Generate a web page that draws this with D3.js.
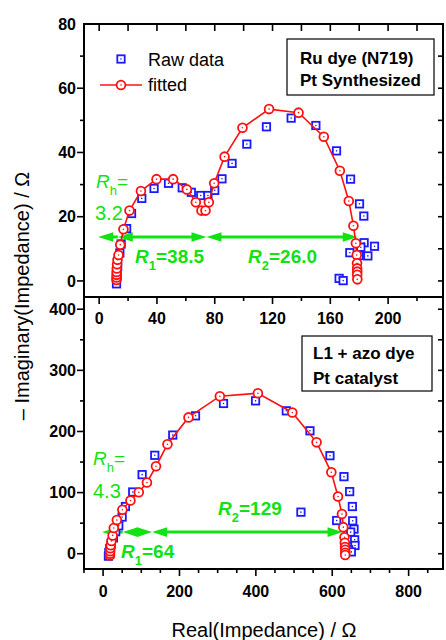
<!DOCTYPE html>
<html>
<head>
<meta charset="utf-8">
<script src="https://cdn.jsdelivr.net/npm/d3@7"></script>
<style>
    body { margin: 0; background: #fff; }
    #chart { width: 446px; height: 640px; }
    text { font-family: "Liberation Sans", Arial, sans-serif; }
</style>
</head>
<body>
<div id="chart"></div>
<script>
// top panel: Ru dye (N719), Pt synthesized
var rawTopX = [12.0, 12.4, 12.8, 14.3, 15.2, 19.0, 22.4, 29.5, 38.0, 48.0, 57.5, 63.8, 70.3, 75.3, 80.0, 85.0, 92.0, 102.2, 115.8, 132.9, 150.0, 164.3, 174.0, 180.2, 183.2, 183.4, 181.1, 190.6, 173.5, 180.0, 186.0, 166.1, 168.9];
var rawTopY = [-0.9, 1.8, 4.5, 8.7, 11.5, 16.3, 21.0, 25.7, 28.8, 30.4, 29.0, 27.6, 26.6, 26.6, 28.2, 31.8, 36.6, 42.6, 48.0, 50.7, 48.4, 40.5, 31.7, 24.0, 20.2, 11.9, 10.5, 10.8, 8.8, 7.9, 7.8, 0.8, 0.1];
var fitTopX = [12.0, 12.0, 12.1, 12.1, 12.2, 12.4, 12.7, 13.4, 14.6, 16.8, 21.0, 28.9, 39.7, 51.2, 60.7, 66.9, 70.8, 73.6, 75.9, 79.6, 86.8, 99.2, 117.6, 138.0, 155.5, 166.6, 172.8, 176.0, 177.7, 178.3, 178.5, 178.6, 178.6, 178.6, 178.7];
var fitTopY = [0.3, 1.1, 1.9, 2.8, 3.9, 5.2, 6.6, 8.1, 11.3, 16.1, 21.9, 28.0, 31.7, 31.7, 28.5, 24.5, 21.9, 21.9, 24.5, 30.4, 38.7, 47.7, 53.5, 52.4, 44.9, 34.3, 24.9, 17.2, 11.7, 8.1, 5.5, 3.9, 2.9, 1.9, 0.5];

// bottom panel: L1 + azo dye, Pt catalyst
var rawBotX = [14, 15, 17, 21, 27, 33, 41, 49.8, 58.5, 77.6, 102.2, 135.3, 182.4, 242, 315.3, 399.2, 479.7, 541.6, 594, 630.7, 645.6, 652.7, 653.5, 611.6, 518, 657, 648.3, 658.7, 659.5, 643, 650];
var rawBotY = [-4, 2, 8, 16, 26, 36, 45.7, 60, 77.2, 101, 129.4, 161, 194.1, 225.6, 245.8, 250.1, 233.8, 201.1, 160.4, 126.1, 101.6, 77.2, 53.8, 54.3, 68, 40.3, 35.4, 22.8, 13.5, 6.5, 3];
var fitBotX = [18, 18, 18.5, 19, 20, 22, 25, 28, 36, 50.5, 71.6, 93.4, 114.8, 138.5, 168.5, 223.6, 305.7, 405.3, 495.4, 559, 597.6, 615, 625.4, 629, 632, 633, 633.5, 634, 634, 634];
var fitBotY = [-3, 0, 4, 9, 14, 21, 30, 42, 55, 72, 87, 100.6, 116.6, 143, 179, 223, 257.7, 262.6, 231.1, 182.2, 133.2, 93.5, 64.8, 43.5, 27, 18, 11, 6.5, 1.5, -2];

// ticks
var topXTicks = [0, 40, 80, 120, 160, 200];
var topYTicks = [0, 20, 40, 60, 80];
var botXTicks = [0, 200, 400, 600, 800];
var botYTicks = [0, 100, 200, 300, 400];

// resistance arrows: [from, to, headLeft, headRight]
var arrowsTop = [[-0.7, 12.9, 1, 0], [12.9, 74.3, 1, 1], [74.3, 179, 1, 1]];
var arrowsBot = [[-2.6, 51.4, 1, 0], [51.4, 128.4, 1, 1], [128.4, 627, 1, 1]];

var draw_nyquist = {
    width: 446,
    height: 640,
    view: 0,
    left: 84,
    right: 443,
    green: "#12e212",
    initialize: function() {
        var self = this;
        self.view = d3.select("#chart").append("svg")
            .attr("width", self.width)
            .attr("height", self.height);

        var top = {
            x: d3.scaleLinear().domain([-10.5, 238]).range([self.left, self.right]),
            y: d3.scaleLinear().domain([-5, 80]).range([297, 24])
        };
        var bot = {
            x: d3.scaleLinear().domain([-50, 890]).range([self.left, self.right]),
            y: d3.scaleLinear().domain([-25, 420]).range([569, 297])
        };
        self.axes(top, topXTicks, 20, topYTicks, 10, 10, 324);
        self.axes(bot, botXTicks, 50, botYTicks, 50, 50, 597);
        self.arrows(top, arrowsTop, 13.7);
        self.arrows(bot, arrowsBot, 35.4);
        self.points(top, rawTopX, rawTopY, fitTopX, fitTopY);
        self.points(bot, rawBotX, rawBotY, fitBotX, fitBotY);
        self.frame(top);
        self.frame(bot);
        self.texts();
    },

    axes: function(p, xt, xminor, yt, yminor, rminor, xlabelY) {
        var self = this;
        var y0 = p.y.range()[0], y1 = p.y.range()[1];
        var xd = p.x.domain(), yd = p.y.domain();
        var xmin = d3.range(Math.ceil(xd[0] / xminor) * xminor, xd[1], xminor);
        var ymin = d3.range(Math.ceil(yd[0] / yminor) * yminor, yd[1], yminor);
        var step = xt[1] - xt[0];
        var ystep = yt[1] - yt[0];

        // bottom ticks, outward
        var g = self.view.append("g").attr("stroke", "#000").attr("stroke-width", 1.6);
        g.selectAll(".bx").data(xmin).enter().append("line")
            .attr("x1", function(d) { return p.x(d); })
            .attr("x2", function(d) { return p.x(d); })
            .attr("y1", y0)
            .attr("y2", function(d) { return y0 + (Math.abs(d % step) < 1e-6 ? 7 : 4); });
        // top ticks, inward (top panel only)
        if (y1 < 100) {
            g.selectAll(".tx").data(xmin).enter().append("line")
                .attr("x1", function(d) { return p.x(d); })
                .attr("x2", function(d) { return p.x(d); })
                .attr("y1", y1)
                .attr("y2", y1 + 7);
        }
        // left ticks, outward
        g.selectAll(".ly").data(ymin).enter().append("line")
            .attr("x1", self.left)
            .attr("x2", function(d) { return self.left - (Math.abs(d % ystep) < 1e-6 ? 7 : 4); })
            .attr("y1", function(d) { return p.y(d); })
            .attr("y2", function(d) { return p.y(d); });
        // right ticks, inward
        var rmin = d3.range(Math.ceil(yd[0] / rminor) * rminor, yd[1], rminor);
        g.selectAll(".ry").data(rmin).enter().append("line")
            .attr("x1", self.right)
            .attr("x2", self.right - 5)
            .attr("y1", function(d) { return p.y(d); })
            .attr("y2", function(d) { return p.y(d); });

        self.view.append("g").selectAll("text")
            .data(xt).enter().append("text")
            .attr("x", function(d) { return p.x(d); })
            .attr("y", xlabelY)
            .attr("text-anchor", "middle")
            .attr("font-size", 16)
            .attr("font-weight", "bold")
            .text(function(d) { return d; });
        self.view.append("g").selectAll("text")
            .data(yt).enter().append("text")
            .attr("x", self.left - 8)
            .attr("y", function(d) { return p.y(d); })
            .attr("dy", "0.36em")
            .attr("text-anchor", "end")
            .attr("font-size", 16)
            .attr("font-weight", "bold")
            .text(function(d) { return d; });
    },

    frame: function(p) {
        var self = this;
        var yr = p.y.range();
        self.view.append("rect")
            .attr("x", self.left)
            .attr("y", yr[1])
            .attr("width", self.right - self.left)
            .attr("height", yr[0] - yr[1])
            .attr("fill", "none")
            .attr("stroke", "#000")
            .attr("stroke-width", 2);
    },

    arrows: function(p, list, yv) {
        var self = this;
        var y = p.y(yv);
        var hl = 15, hw = 4.8;
        var g = self.view.append("g");
        list.forEach(function(a) {
            var xa = p.x(a[0]), xb = p.x(a[1]);
            g.append("line")
                .attr("x1", xa + (a[2] ? hl - 2 : 0))
                .attr("x2", xb - (a[3] ? hl - 2 : 0))
                .attr("y1", y).attr("y2", y)
                .attr("stroke", self.green)
                .attr("stroke-width", 3);
            if (a[2]) {
                g.append("path")
                    .attr("d", "M" + xa + "," + y + "L" + (xa + hl) + "," + (y - hw) + "L" + (xa + hl) + "," + (y + hw) + "Z")
                    .attr("fill", self.green);
            }
            if (a[3]) {
                g.append("path")
                    .attr("d", "M" + xb + "," + y + "L" + (xb - hl) + "," + (y - hw) + "L" + (xb - hl) + "," + (y + hw) + "Z")
                    .attr("fill", self.green);
            }
        });
    },

    square: function(g, x, y) {
        g.append("rect")
            .attr("x", x - 3.7).attr("y", y - 3.7)
            .attr("width", 7.4).attr("height", 7.4)
            .attr("fill", "#fff")
            .attr("stroke", "#1a1aff")
            .attr("stroke-width", 1.8);
        g.append("circle").attr("cx", x).attr("cy", y).attr("r", 0.8).attr("fill", "#1a1aff");
    },

    ring: function(g, x, y) {
        g.append("circle")
            .attr("cx", x).attr("cy", y).attr("r", 4.4)
            .attr("fill", "#fff")
            .attr("stroke", "#ff1010")
            .attr("stroke-width", 1.8);
        g.append("circle").attr("cx", x).attr("cy", y).attr("r", 0.8).attr("fill", "#ff1010");
    },

    points: function(p, rx, ry, fx, fy) {
        var self = this;
        var g = self.view.append("g");
        rx.forEach(function(d, i) { self.square(g, p.x(d), p.y(ry[i])); });
        var line = d3.line()
            .x(function(d) { return p.x(d[0]); })
            .y(function(d) { return p.y(d[1]); });
        g.append("path")
            .attr("d", line(d3.zip(fx, fy)))
            .attr("fill", "none")
            .attr("stroke", "#ff1010")
            .attr("stroke-width", 1.6);
        fx.forEach(function(d, i) { self.ring(g, p.x(d), p.y(fy[i])); });
    },

    label: function(x, y, sub, rest, bold) {
        var self = this;
        var t = self.view.append("text")
            .attr("x", x).attr("y", y)
            .attr("font-size", 19)
            .attr("font-weight", bold ? "bold" : "normal")
            .attr("fill", self.green);
        t.append("tspan").attr("font-style", "italic").text("R");
        t.append("tspan").attr("dy", 7).attr("font-size", 13).text(sub);
        t.append("tspan").attr("dy", -7).text(rest);
    },

    texts: function() {
        var self = this;
        var v = self.view;

        // legend
        var lg = v.append("g");
        self.square(lg, 121, 59);
        lg.append("line").attr("x1", 100).attr("x2", 142).attr("y1", 85).attr("y2", 85)
            .attr("stroke", "#ff1010").attr("stroke-width", 1.6);
        self.ring(lg, 121, 85);
        lg.append("text").attr("x", 148).attr("y", 66).attr("font-size", 18).text("Raw data");
        lg.append("text").attr("x", 148).attr("y", 91).attr("font-size", 18).text("fitted");

        // sample boxes
        v.append("rect").attr("x", 287).attr("y", 39).attr("width", 147).attr("height", 56)
            .attr("fill", "#fff").attr("stroke", "#000").attr("stroke-width", 1.2);
        v.append("text").attr("x", 300).attr("y", 63.5).attr("font-size", 17).attr("font-weight", "bold").text("Ru dye (N719)");
        v.append("text").attr("x", 300).attr("y", 86).attr("font-size", 17).attr("font-weight", "bold").text("Pt Synthesized");
        v.append("rect").attr("x", 302).attr("y", 336).attr("width", 130).attr("height", 55)
            .attr("fill", "#fff").attr("stroke", "#000").attr("stroke-width", 1.2);
        v.append("text").attr("x", 313).attr("y", 358.5).attr("font-size", 17).attr("font-weight", "bold").text("L1 + azo dye");
        v.append("text").attr("x", 313).attr("y", 383.5).attr("font-size", 17).attr("font-weight", "bold").text("Pt catalyst");

        // resistance labels
        self.label(96, 188, "h", "=", false);
        v.append("text").attr("x", 95).attr("y", 219.5).attr("font-size", 20).attr("fill", self.green).text("3.2");
        self.label(135, 263, "1", "=38.5", true);
        self.label(248, 263, "2", "=26.0", true);
        self.label(93, 465, "h", "=", false);
        v.append("text").attr("x", 93).attr("y", 498).attr("font-size", 20).attr("fill", self.green).text("4.3");
        self.label(121, 558, "1", "=64", true);
        self.label(218, 515, "2", "=129", true);

        // axis titles
        v.append("text").attr("x", 264).attr("y", 637).attr("text-anchor", "middle")
            .attr("font-size", 20).text("Real(Impedance) / \u03A9");
        v.append("text").attr("transform", "translate(29,296) rotate(-90)")
            .attr("text-anchor", "middle")
            .attr("font-size", 20).text("\u2013 Imaginary(Impedance) / \u03A9");
    }
};

draw_nyquist.initialize();
</script>
</body>
</html>
